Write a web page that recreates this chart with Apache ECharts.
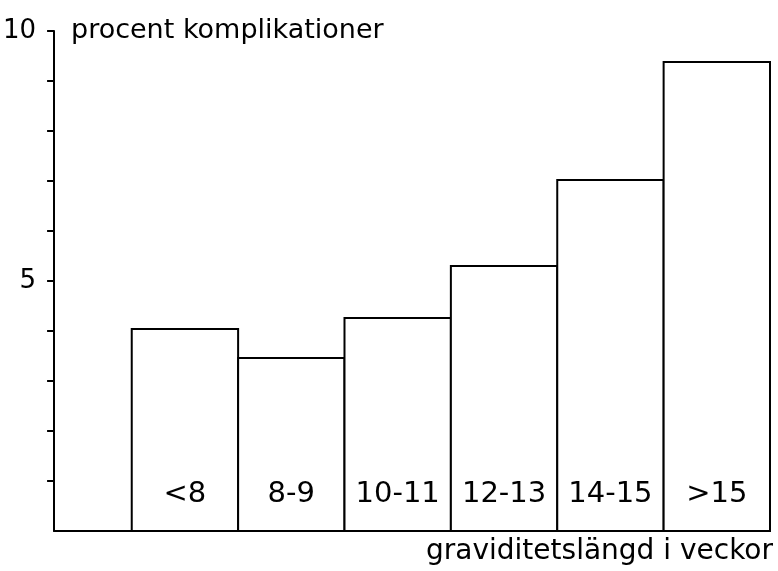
<!DOCTYPE html>
<html>
<head>
<meta charset="utf-8">
<script src="https://cdn.jsdelivr.net/npm/echarts@6/dist/echarts.min.js"></script>
<style>html,body{margin:0;padding:0;background:#fff}#c{width:778px;height:571px}</style>
</head>
<body>
<div id="c"></div>
<script>
const categories = ['<8', '8-9', '10-11', '12-13', '14-15', '>15'];
const values = [4.04, 3.46, 4.26, 5.3, 7.02, 9.38];
const yTicks = [1, 2, 3, 4, 5, 6, 7, 8, 9, 10];
const yTickLabels = [5, 10];
const yTitle = 'procent komplikationer';
const xTitle = 'graviditetslängd i veckor';

const FONT = 'DejaVu Sans';
const chart = echarts.init(document.getElementById('c'), null, {renderer: 'canvas'});
chart.setOption({
  animation: false,
  backgroundColor: '#fff',
  title: [
    {text: yTitle, left: 66, top: 12, textStyle: {fontFamily: FONT, fontSize: 27, fontWeight: 'normal', color: '#000'}},
    {text: xTitle, right: 0, top: 533, textStyle: {fontFamily: FONT, fontSize: 28, fontWeight: 'normal', color: '#000'}}
  ],
  grid: {left: 53, right: 8, top: 31, bottom: 40, containLabel: false},
  xAxis: {
    type: 'value', min: -0.73, max: 6,
    axisLine: {show: true, onZero: false, lineStyle: {color: '#000', width: 2}},
    axisTick: {show: false}, axisLabel: {show: false}, splitLine: {show: false}
  },
  yAxis: {
    type: 'value', min: 0, max: 10, interval: 1,
    axisLine: {show: true, onZero: false, lineStyle: {color: '#000', width: 2}},
    axisTick: {show: true, length: 7, customValues: yTicks, lineStyle: {color: '#000', width: 2}},
    axisLabel: {
      margin: 18, fontFamily: FONT, fontSize: 26, color: '#000',
      customValues: yTickLabels
    },
    splitLine: {show: false}
  },
  series: [{
    type: 'custom',
    data: values.map((v, i) => [i, v]),
    renderItem: function (params, api) {
      const i = api.value(0);
      const p0 = api.coord([i, 0]);
      const p1 = api.coord([i + 1, api.value(1)]);
      return {
        type: 'group',
        children: [
          {type: 'rect', shape: {x: p0[0], y: p1[1], width: p1[0] - p0[0], height: p0[1] - p1[1]},
           style: {fill: '#fff', stroke: '#000', lineWidth: 2}},
          {type: 'text', x: (p0[0] + p1[0]) / 2, y: p0[1] - 37,
           style: {text: categories[i], fontFamily: FONT, fontSize: 29, fill: '#000', align: 'center', verticalAlign: 'middle'}}
        ]
      };
    }
  }]
});
</script>
</body>
</html>
